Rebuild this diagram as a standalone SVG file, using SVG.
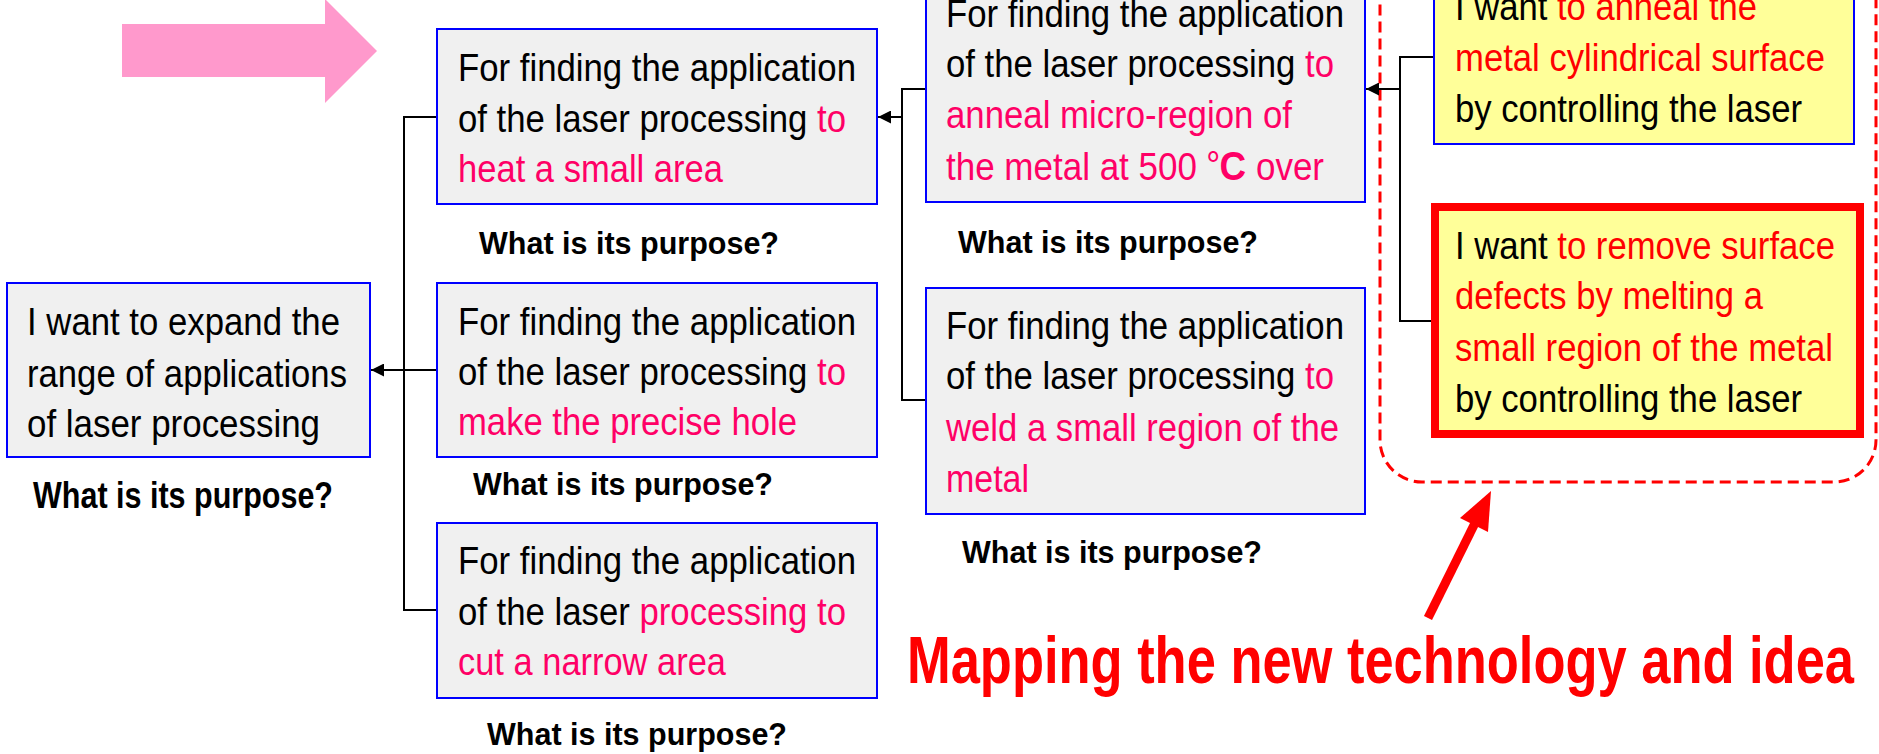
<svg xmlns="http://www.w3.org/2000/svg" width="1879" height="754" viewBox="0 0 1879 754">
<style>
.box{fill:#F0F0F0;stroke:#0000FF;stroke-width:2}
.ybox{fill:#FFFF99;stroke:#0000FF;stroke-width:2}
.rbox{fill:#FFFF99;stroke:#FF0000;stroke-width:8}
.t{font-family:"Liberation Sans",Arial,sans-serif;font-size:38px;fill:#000}
.q{font-family:"Liberation Sans",Arial,sans-serif;font-size:32px;font-weight:bold;fill:#000}
.pk{fill:#FF0066}
.rd{fill:#FF0000}
.deg{font-family:"Noto Sans CJK JP","Liberation Sans",sans-serif}
.bc{font-weight:bold;font-size:40px}
.conn{fill:none;stroke:#000;stroke-width:2}
</style>
<defs>
<marker id="ah" markerUnits="userSpaceOnUse" viewBox="0 0 10 10" refX="10" refY="5" markerWidth="15" markerHeight="13" orient="auto">
<path d="M0,0 L10,5 L0,10 z" fill="#000"/>
</marker>
</defs>
<rect width="1879" height="754" fill="#FFFFFF"/>

<g id="pink-arrow">
<polygon points="122,24 325,24 325,-1 377,51 325,103 325,77 122,77" fill="#FF99CC"/>
</g>

<g id="mapping-region">
<rect x="1380" y="-60" width="496" height="542" rx="42" ry="42" fill="none" stroke="#FF0000" stroke-width="3" stroke-dasharray="11 6"/>
</g>

<g id="connectors">
<path class="conn" d="M437,117 H404 V610 H437"/>
<line class="conn" x1="437" y1="370" x2="371" y2="370" marker-end="url(#ah)"/>
<path class="conn" d="M926,89 H902 V400 H926"/>
<line class="conn" x1="902" y1="117" x2="878" y2="117" marker-end="url(#ah)"/>
<path class="conn" d="M1434,57 H1400 V321 H1431"/>
<line class="conn" x1="1400" y1="89" x2="1366" y2="89" marker-end="url(#ah)"/>
</g>

<g id="node-expand">
<rect class="box" x="7" y="283" width="363" height="174"/>
<text class="t" x="27" y="335" textLength="313" lengthAdjust="spacingAndGlyphs">I want to expand the</text>
<text class="t" x="27" y="387" textLength="320" lengthAdjust="spacingAndGlyphs">range of applications</text>
<text class="t" x="27" y="437" textLength="293" lengthAdjust="spacingAndGlyphs">of laser processing</text>
<text class="q" x="33" y="508" textLength="300" lengthAdjust="spacingAndGlyphs" style="font-size:37px">What is its purpose?</text>
</g>

<g id="node-heat">
<rect class="box" x="437" y="29" width="440" height="175"/>
<text class="t" x="458" y="81" textLength="398" lengthAdjust="spacingAndGlyphs">For finding the application</text>
<text class="t" x="458" y="132" textLength="388" lengthAdjust="spacingAndGlyphs">of the laser processing <tspan class="pk">to</tspan></text>
<text class="t pk" x="458" y="182" textLength="265" lengthAdjust="spacingAndGlyphs">heat a small area</text>
<text class="q" x="479" y="254" textLength="300" lengthAdjust="spacingAndGlyphs">What is its purpose?</text>
</g>

<g id="node-hole">
<rect class="box" x="437" y="283" width="440" height="174"/>
<text class="t" x="458" y="335" textLength="398" lengthAdjust="spacingAndGlyphs">For finding the application</text>
<text class="t" x="458" y="385" textLength="388" lengthAdjust="spacingAndGlyphs">of the laser processing <tspan class="pk">to</tspan></text>
<text class="t pk" x="458" y="435" textLength="339" lengthAdjust="spacingAndGlyphs">make the precise hole</text>
<text class="q" x="473" y="495" textLength="300" lengthAdjust="spacingAndGlyphs">What is its purpose?</text>
</g>

<g id="node-cut">
<rect class="box" x="437" y="523" width="440" height="175"/>
<text class="t" x="458" y="574" textLength="398" lengthAdjust="spacingAndGlyphs">For finding the application</text>
<text class="t" x="458" y="625" textLength="388" lengthAdjust="spacingAndGlyphs">of the laser <tspan class="pk">processing to</tspan></text>
<text class="t pk" x="458" y="675" textLength="268" lengthAdjust="spacingAndGlyphs">cut a narrow area</text>
<text class="q" x="487" y="745" textLength="300" lengthAdjust="spacingAndGlyphs">What is its purpose?</text>
</g>

<g id="node-anneal">
<rect class="box" x="926" y="-24" width="439" height="226"/>
<text class="t" x="946" y="27" textLength="398" lengthAdjust="spacingAndGlyphs">For finding the application</text>
<text class="t" x="946" y="77" textLength="388" lengthAdjust="spacingAndGlyphs">of the laser processing <tspan class="pk">to</tspan></text>
<text class="t pk" x="946" y="128" textLength="346" lengthAdjust="spacingAndGlyphs">anneal micro-region of</text>
<text class="t pk" x="946" y="180" textLength="378" lengthAdjust="spacingAndGlyphs">the metal at 500 <tspan class="deg">°</tspan><tspan class="bc">C</tspan> over</text>
<text class="q" x="958" y="253" textLength="300" lengthAdjust="spacingAndGlyphs">What is its purpose?</text>
</g>

<g id="node-weld">
<rect class="box" x="926" y="288" width="439" height="226"/>
<text class="t" x="946" y="339" textLength="398" lengthAdjust="spacingAndGlyphs">For finding the application</text>
<text class="t" x="946" y="389" textLength="388" lengthAdjust="spacingAndGlyphs">of the laser processing <tspan class="pk">to</tspan></text>
<text class="t pk" x="946" y="441" textLength="393" lengthAdjust="spacingAndGlyphs">weld a small region of the</text>
<text class="t pk" x="946" y="492" textLength="83" lengthAdjust="spacingAndGlyphs">metal</text>
<text class="q" x="962" y="563" textLength="300" lengthAdjust="spacingAndGlyphs">What is its purpose?</text>
</g>

<g id="node-cylinder">
<rect class="ybox" x="1434" y="-32" width="420" height="176"/>
<text class="t" x="1455" y="20" textLength="302" lengthAdjust="spacingAndGlyphs">I want <tspan class="rd">to anneal the</tspan></text>
<text class="t rd" x="1455" y="71" textLength="370" lengthAdjust="spacingAndGlyphs">metal cylindrical surface</text>
<text class="t" x="1455" y="122" textLength="347" lengthAdjust="spacingAndGlyphs">by controlling the laser</text>
</g>

<g id="node-defects">
<rect class="rbox" x="1435" y="207" width="425" height="227"/>
<text class="t" x="1455" y="259" textLength="380" lengthAdjust="spacingAndGlyphs">I want <tspan class="rd">to remove surface</tspan></text>
<text class="t rd" x="1455" y="309" textLength="308" lengthAdjust="spacingAndGlyphs">defects by melting a</text>
<text class="t rd" x="1455" y="361" textLength="378" lengthAdjust="spacingAndGlyphs">small region of the metal</text>
<text class="t" x="1455" y="412" textLength="347" lengthAdjust="spacingAndGlyphs">by controlling the laser</text>
</g>

<g id="mapping-label">
<line x1="1428" y1="618" x2="1476" y2="521" stroke="#FF0000" stroke-width="9"/>
<polygon points="1491,491 1488,532 1460,518" fill="#FF0000"/>
<text x="907" y="683" textLength="947" lengthAdjust="spacingAndGlyphs" style="font-family:'Liberation Sans',Arial,sans-serif;font-size:66px;font-weight:bold;fill:#FF0000">Mapping the new technology and idea</text>
</g>
</svg>
